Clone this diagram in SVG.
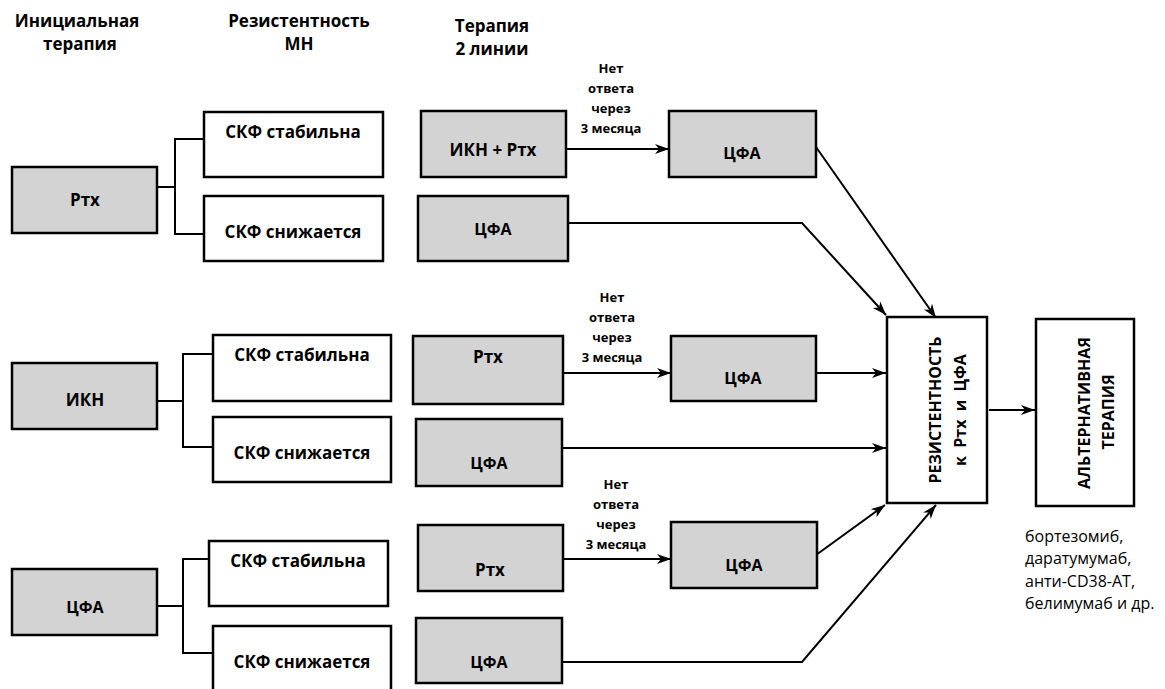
<svg xmlns="http://www.w3.org/2000/svg" width="1165" height="689" viewBox="0 0 1165 689">
<style>
.g{fill:#d3d3d3;stroke:#000;stroke-width:2.5}
.w{fill:#fff;stroke:#000;stroke-width:2.5}
.t{font-family:"Open Sans","Noto Sans","DejaVu Sans",sans-serif;font-weight:bold;fill:#000;text-anchor:middle}
.f17{font-size:17px}
.f16{font-size:16px}
.h{font-size:17px}
.lbl{font-size:13px}
.v{font-size:16px;white-space:pre}
.note{font-family:"Open Sans","Noto Sans","DejaVu Sans",sans-serif;font-size:16px;fill:#000}
.c{fill:none;stroke:#000;stroke-width:2}
.a{fill:none;stroke:#000;stroke-width:2;marker-end:url(#arr)}
</style>
<defs>
<marker id="arr" viewBox="0 0 14 10" refX="14" refY="5" markerWidth="14" markerHeight="10" markerUnits="userSpaceOnUse" orient="auto">
<path d="M0,0 L14,5 L0,10 L4,5 z" fill="#000"/>
</marker>
</defs>
<rect width="1165" height="689" fill="#fff"/>

<g id="headers">
<text class="t h" x="77" y="27">Инициальная</text>
<text class="t h" x="80" y="50">терапия</text>
<text class="t h" x="299" y="27">Резистентность</text>
<text class="t h" x="299" y="50">МН</text>
<text class="t h" x="492" y="32">Терапия</text>
<text class="t h" x="492" y="55">2 линии</text>
</g>

<g id="connectors">
<path class="c" d="M157,187 H175 M204,139 H175 V234 H204"/>
<path class="c" d="M157,401 H183 M213,354 H183 V447 H213"/>
<path class="c" d="M157,606 H183 M209,559 H183 V653 H213"/>
<path class="a" d="M566,149 H669"/>
<path class="a" d="M816,147 L936,318"/>
<path class="a" d="M568,223 H802 L886,315"/>
<path class="a" d="M563,373 H671"/>
<path class="a" d="M816,373 H886"/>
<path class="a" d="M562,448 H886"/>
<path class="a" d="M563,559 H671"/>
<path class="a" d="M816,555 L885,505"/>
<path class="a" d="M562,662 H802 L936,505"/>
<path class="a" d="M989,410 H1035"/>
</g>

<g id="edge-labels">
<text class="t lbl" x="611" y="73">Нет</text>
<text class="t lbl" x="611" y="93">ответа</text>
<text class="t lbl" x="611" y="113">через</text>
<text class="t lbl" x="611" y="133">3 месяца</text>
<text class="t lbl" x="612" y="302">Нет</text>
<text class="t lbl" x="612" y="322">ответа</text>
<text class="t lbl" x="612" y="342">через</text>
<text class="t lbl" x="612" y="362">3 месяца</text>
<text class="t lbl" x="616" y="489">Нет</text>
<text class="t lbl" x="616" y="509">ответа</text>
<text class="t lbl" x="616" y="529">через</text>
<text class="t lbl" x="616" y="549">3 месяца</text>
</g>

<g id="n-rtx1"><rect class="g" x="12" y="167" width="145" height="66"/><text class="t f17" x="85" y="206">Ртх</text></g>
<g id="n-stab1"><rect class="w" x="204" y="112" width="179" height="65"/><text class="t f17" x="293" y="138">СКФ стабильна</text></g>
<g id="n-dec1"><rect class="w" x="204" y="196" width="179" height="65"/><text class="t f17" x="293" y="238">СКФ снижается</text></g>
<g id="n-ikn-rtx"><rect class="g" x="421" y="111" width="145" height="66"/><text class="t f17" x="493" y="156">ИКН + Ртх</text></g>
<g id="n-cfa1a"><rect class="g" x="669" y="111" width="147" height="66"/><text class="t f16" x="742" y="159">ЦФА</text></g>
<g id="n-cfa1b"><rect class="g" x="418" y="196" width="150" height="65"/><text class="t f16" x="493" y="235">ЦФА</text></g>

<g id="n-ikn"><rect class="g" x="12" y="363" width="145" height="66"/><text class="t f17" x="85" y="406">ИКН</text></g>
<g id="n-stab2"><rect class="w" x="213" y="335" width="178" height="66"/><text class="t f17" x="302" y="361">СКФ стабильна</text></g>
<g id="n-dec2"><rect class="w" x="213" y="417" width="178" height="65"/><text class="t f17" x="302" y="459">СКФ снижается</text></g>
<g id="n-rtx2"><rect class="g" x="413" y="336" width="150" height="68"/><text class="t f17" x="488" y="363">Ртх</text></g>
<g id="n-cfa2a"><rect class="g" x="671" y="336" width="145" height="65"/><text class="t f16" x="743" y="384">ЦФА</text></g>
<g id="n-cfa2b"><rect class="g" x="416" y="419" width="146" height="67"/><text class="t f16" x="489" y="469">ЦФА</text></g>

<g id="n-cfa3"><rect class="g" x="12" y="569" width="145" height="66"/><text class="t f16" x="85" y="613">ЦФА</text></g>
<g id="n-stab3"><rect class="w" x="209" y="541" width="179" height="65"/><text class="t f17" x="298" y="567">СКФ стабильна</text></g>
<g id="n-dec3"><rect class="w" x="213" y="626" width="178" height="70"/><text class="t f17" x="302" y="668">СКФ снижается</text></g>
<g id="n-rtx3"><rect class="g" x="418" y="525" width="145" height="66"/><text class="t f17" x="490" y="576">Ртх</text></g>
<g id="n-cfa3a"><rect class="g" x="671" y="522" width="146" height="66"/><text class="t f16" x="744" y="571">ЦФА</text></g>
<g id="n-cfa3b"><rect class="g" x="416" y="618" width="146" height="65"/><text class="t f16" x="489" y="668">ЦФА</text></g>

<g id="n-resist">
<rect class="w" x="887" y="317" width="100" height="186"/>
<text class="t v" transform="translate(941,410) rotate(-90)">РЕЗИСТЕНТНОСТЬ</text>
<text class="t v" transform="translate(966,410) rotate(-90)" xml:space="preserve">к  Ртх  и  ЦФА</text>
</g>
<g id="n-alt">
<rect class="w" x="1036" y="319" width="98" height="187"/>
<text class="t v" transform="translate(1090,413) rotate(-90)">АЛЬТЕРНАТИВНАЯ</text>
<text class="t v" transform="translate(1114,412) rotate(-90)">ТЕРАПИЯ</text>
</g>

<g id="notes">
<text class="note" x="1025" y="542">бортезомиб,</text>
<text class="note" x="1025" y="564">даратумумаб,</text>
<text class="note" x="1025" y="587">анти-CD38-АТ,</text>
<text class="note" x="1025" y="609">белимумаб и др.</text>
</g>
</svg>
